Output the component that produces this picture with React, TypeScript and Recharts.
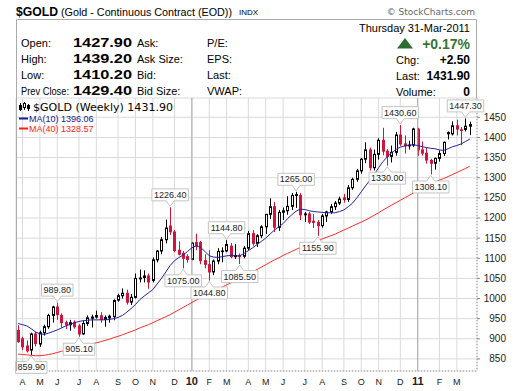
import {
  ComposedChart,
  Bar,
  Line,
  XAxis,
  YAxis,
  CartesianGrid,
  ReferenceDot,
  ReferenceLine,
} from 'recharts';

const ARIAL = 'Arial, "Liberation Sans", sans-serif';
const RED = '#d0143c';

// weekly bars, week starting monday
const weeks = [
  '2009-03-30', '2009-04-06', '2009-04-13', '2009-04-20', '2009-04-27', '2009-05-04', '2009-05-11', '2009-05-18',
  '2009-05-25', '2009-06-01', '2009-06-08', '2009-06-15', '2009-06-22', '2009-06-29', '2009-07-06', '2009-07-13',
  '2009-07-20', '2009-07-27', '2009-08-03', '2009-08-10', '2009-08-17', '2009-08-24', '2009-08-31', '2009-09-07',
  '2009-09-14', '2009-09-21', '2009-09-28', '2009-10-05', '2009-10-12', '2009-10-19', '2009-10-26', '2009-11-02',
  '2009-11-09', '2009-11-16', '2009-11-23', '2009-11-30', '2009-12-07', '2009-12-14', '2009-12-21', '2009-12-28',
  '2010-01-04', '2010-01-11', '2010-01-18', '2010-01-25', '2010-02-01', '2010-02-08', '2010-02-15', '2010-02-22',
  '2010-03-01', '2010-03-08', '2010-03-15', '2010-03-22', '2010-03-29', '2010-04-05', '2010-04-12', '2010-04-19',
  '2010-04-26', '2010-05-03', '2010-05-10', '2010-05-17', '2010-05-24', '2010-05-31', '2010-06-07', '2010-06-14',
  '2010-06-21', '2010-06-28', '2010-07-05', '2010-07-12', '2010-07-19', '2010-07-26', '2010-08-02', '2010-08-09',
  '2010-08-16', '2010-08-23', '2010-08-30', '2010-09-06', '2010-09-13', '2010-09-20', '2010-09-27', '2010-10-04',
  '2010-10-11', '2010-10-18', '2010-10-25', '2010-11-01', '2010-11-08', '2010-11-15', '2010-11-22', '2010-11-29',
  '2010-12-06', '2010-12-13', '2010-12-20', '2010-12-27', '2011-01-03', '2011-01-10', '2011-01-17', '2011-01-24',
  '2011-01-31', '2011-02-07', '2011-02-14', '2011-02-21', '2011-02-28', '2011-03-07', '2011-03-14', '2011-03-21',
  '2011-03-28',
];

const opens = [
  921, 900, 882, 872, 912, 887, 915, 930, 958, 979, 958, 940, 935, 941, 932, 912,
  938, 951, 954, 957, 948, 952, 955, 996, 1007, 1013, 991, 1003, 1049, 1052, 1056, 1045,
  1096, 1118, 1146, 1180, 1165, 1120, 1112, 1104, 1097, 1139, 1139, 1094, 1084, 1066, 1093, 1117,
  1118, 1130, 1104, 1107, 1105, 1125, 1161, 1137, 1156, 1178, 1209, 1228, 1177, 1214, 1218, 1229,
  1256, 1256, 1208, 1210, 1192, 1189, 1181, 1205, 1215, 1228, 1237, 1250, 1246, 1275, 1296, 1317,
  1346, 1369, 1325, 1358, 1393, 1366, 1353, 1363, 1406, 1384, 1379, 1381, 1421, 1369, 1361, 1343,
  1336, 1348, 1360, 1412, 1409, 1429, 1417, 1420, 1428,
];
const highs = [
  934, 905, 896, 915, 918, 920, 935, 962, 982, 989.8, 963, 945, 947, 946, 937, 945,
  958, 960, 970, 966, 958, 960, 998, 1012, 1025, 1022, 1011, 1062, 1072, 1070, 1062, 1102,
  1120, 1153, 1196, 1226.4, 1170, 1142, 1118, 1110, 1140, 1161, 1143, 1110, 1120, 1097, 1125, 1127,
  1144.8, 1138, 1135, 1112, 1130, 1168, 1170, 1160, 1182, 1210, 1249, 1240, 1220, 1226, 1254, 1262,
  1265, 1262, 1215, 1215, 1210, 1195, 1210, 1218, 1235, 1242, 1253, 1260, 1282, 1300, 1322, 1349,
  1388, 1375, 1370, 1398, 1424, 1371, 1380, 1414, 1430.6, 1405, 1392, 1424, 1424, 1390, 1375, 1347,
  1350, 1368, 1390, 1415, 1440, 1444, 1426, 1447.3, 1439.2,
];
const lows = [
  890, 872, 866, 859.9, 881, 880, 908, 925, 940, 947, 928, 924, 920, 925, 905.1, 910,
  932, 928, 950, 940, 930, 940, 946, 992, 1000, 985, 984, 1000, 1040, 1040, 1024, 1040,
  1090, 1110, 1137, 1158, 1115, 1107, 1075, 1089, 1095, 1120, 1085, 1075, 1044.8, 1058, 1085, 1090,
  1115, 1100, 1098, 1085.5, 1100, 1120, 1131, 1128, 1150, 1160, 1197, 1165, 1168, 1195, 1208, 1220,
  1225, 1195, 1190, 1185, 1175, 1155.9, 1176, 1190, 1210, 1220, 1232, 1238, 1240, 1270, 1290, 1310,
  1336, 1318, 1318, 1345, 1356, 1330, 1338, 1355, 1379, 1360, 1370, 1376, 1354, 1355, 1335, 1308.1,
  1320, 1340, 1354, 1395, 1405, 1405, 1381, 1415, 1406,
];
const closes = [
  893, 880, 870, 912, 888, 915, 930, 958, 979, 960, 940, 935, 940, 930, 912, 938,
  952, 954, 958, 948, 953, 956, 995, 1007, 1013, 991, 1003, 1050, 1051, 1056, 1041, 1096,
  1118, 1146, 1175, 1166, 1119, 1110, 1100, 1097, 1138, 1131, 1094, 1085, 1066, 1093, 1117, 1118,
  1134, 1104, 1107, 1104, 1125, 1161, 1137, 1156, 1178, 1209, 1228, 1177, 1214, 1218, 1229, 1256,
  1258, 1208, 1210, 1190, 1189, 1181, 1205, 1215, 1228, 1237, 1247, 1246, 1275, 1296, 1317, 1346,
  1369, 1325, 1358, 1393, 1366, 1353, 1363, 1406, 1384, 1379, 1381, 1421, 1369, 1361, 1344, 1336,
  1348, 1360, 1388, 1409, 1429, 1421, 1419, 1428, 1431.9,
];
const priorClose = 922;

const ma10 = [
  938, 935, 932, 925, 917, 912, 911, 914, 918, 922, 927, 932, 936, 940, 943, 945,
  946, 947, 947, 947, 947, 948, 950, 953, 958, 966, 975, 985, 997, 1006, 1014, 1022,
  1036, 1050, 1066, 1082, 1094, 1102, 1108, 1117, 1126, 1131, 1127, 1117, 1106, 1103, 1102, 1104,
  1106, 1107, 1106, 1106, 1112, 1119, 1126, 1134, 1142, 1150, 1160, 1170, 1178, 1186, 1198, 1208,
  1217, 1222, 1221, 1218, 1216, 1215, 1214, 1213, 1213, 1213, 1216, 1220, 1228, 1237, 1250, 1265,
  1280, 1294, 1308, 1325, 1340, 1352, 1362, 1370, 1376, 1379, 1381, 1382, 1380, 1377, 1375, 1373,
  1372, 1369, 1368, 1372, 1377, 1380, 1384, 1390, 1396.06,
];
const ma40 = [
  862, 861, 860, 859, 858, 858, 859, 861, 863, 866, 869, 871, 873, 876, 878, 881,
  884, 887, 890, 893, 896, 899, 903, 906, 910, 914, 918, 922, 927, 931, 935, 940,
  945, 950, 955, 960, 966, 972, 978, 984, 990, 996, 1002, 1007, 1013, 1018, 1023, 1029,
  1034, 1039, 1044, 1049, 1054, 1060, 1066, 1072, 1078, 1084, 1090, 1096, 1101, 1107, 1112, 1117,
  1122, 1127, 1131, 1136, 1140, 1144, 1148, 1152, 1156, 1160, 1165, 1170, 1175, 1180, 1185, 1190,
  1195, 1201, 1207, 1213, 1220, 1226, 1232, 1238, 1244, 1250, 1256, 1262, 1268, 1273, 1278, 1284,
  1289, 1294, 1298, 1303, 1308, 1313, 1318, 1323, 1328.57,
];

const monthTicks = [
  '2009-04-06', '2009-05-04', '2009-06-01', '2009-07-06', '2009-08-03', '2009-09-07', '2009-10-05', '2009-11-02',
  '2009-12-07', '2010-01-04', '2010-02-01', '2010-03-01', '2010-04-05', '2010-05-03', '2010-05-31', '2010-07-05',
  '2010-08-02', '2010-09-06', '2010-10-04', '2010-11-01', '2010-12-06', '2011-01-03', '2011-02-07', '2011-03-07',
];
const monthLabels = ['A', 'M', 'J', 'J', 'A', 'S', 'O', 'N', 'D', '10', 'F', 'M', 'A', 'M', 'J', 'J', 'A', 'S', 'O', 'N', 'D', '11', 'F', 'M'];
const yearTicks = ['2010-01-04', '2011-01-03'];
const priceTicks = [850, 900, 950, 1000, 1050, 1100, 1150, 1200, 1250, 1300, 1350, 1400, 1450];

const peakWeeks = ['2009-04-20', '2009-06-01', '2009-07-06', '2009-11-30', '2009-12-21', '2010-02-01', '2010-03-01',
  '2010-03-22', '2010-06-21', '2010-07-26', '2010-11-15', '2010-12-06', '2011-01-24', '2011-03-21'];
const peakValues = [859.9, 989.8, 905.1, 1226.4, 1075.0, 1044.8, 1144.8, 1085.5, 1265.0, 1155.9, 1330.0, 1430.6, 1308.1, 1447.3];
const peakIsHigh = [false, true, false, true, false, false, true, false, true, false, false, true, false, true];

const data = weeks.map((week, i) => ({
  week,
  open: opens[i],
  high: highs[i],
  low: lows[i],
  close: closes[i],
  prev: i > 0 ? closes[i - 1] : priorClose,
  range: [lows[i], highs[i]],
  ma10: ma10[i],
  ma40: ma40[i],
}));

const Candle = (props: any) => {
  const { x, y, width, height, payload } = props;
  if (x == null || !payload) return null;
  const { open, high, low, close, prev } = payload;
  const top = Math.min(y, y + height);
  const h = Math.abs(height);
  const k = high > low ? h / (high - low) : 0;
  const yOf = (v: number) => top + (high - v) * k;
  const c = Math.round(x + width / 2);
  const color = close >= prev ? '#000' : RED;
  const bTop = yOf(Math.max(open, close));
  const bBot = yOf(Math.min(open, close));
  return (
    <g>
      <line x1={c + 0.5} x2={c + 0.5} y1={top} y2={top + h} stroke={color} strokeWidth={1} />
      <rect x={c - 0.5} y={bTop} width={2} height={Math.max(bBot - bTop, 0.6)}
        fill={close < open ? color : '#fff'} stroke={color} strokeWidth={1} />
    </g>
  );
};

const PeakTag = ({ cx, cy, text, high }: any) => {
  if (cx == null || cy == null) return null;
  const w = text.replace('.', '').length * 5 + 2.5 + 4;
  const l = cx - w / 2;
  const r = cx + w / 2;
  const bh = 12;
  let d: string;
  let ty: number;
  if (high) {
    const apex = cy - 1;
    const yb = cy - 6.5;
    const yt = yb - bh;
    d = `M${l},${yt} H${r} V${yb} H${cx + 4} L${cx},${apex} L${cx - 4},${yb} H${l} Z`;
    ty = yt + 9;
  } else {
    const apex = cy + 1;
    const yt = cy + 6.5;
    const yb = yt + bh;
    d = `M${l},${yt} H${cx - 4} L${cx},${apex} L${cx + 4},${yt} H${r} V${yb} H${l} Z`;
    ty = yt + 9;
  }
  return (
    <g>
      <path d={d} fill="#fff" stroke="#c4c4c4" strokeWidth={1} />
      <text x={cx} y={ty} textAnchor="middle" fontSize={9} fontFamily={ARIAL} fill="#222">{text}</text>
    </g>
  );
};

const MonthTick = ({ x, payload }: any) => {
  const idx = monthTicks.indexOf(payload.value);
  const label = monthLabels[idx] ?? '';
  const isYear = label.length > 1;
  return (
    <text x={x} y={385} textAnchor="middle" fontFamily={ARIAL} fontSize={isYear ? 11 : 9}
      fontWeight={isYear ? 'bold' : 'normal'} fill="#222">{label}</text>
  );
};

const PriceTick = ({ y, payload }: any) => (
  <text x={506} y={y + 3.5} textAnchor="end" fontFamily={ARIAL} fontSize={10} fill="#222">{payload.value}</text>
);

const infoLeft = [
  ['Open:', '1427.90', 'Ask:', 'P/E:'],
  ['High:', '1439.20', 'Ask Size:', 'EPS:'],
  ['Low:', '1410.20', 'Bid:', 'Last:'],
  ['Prev Close:', '1429.40', 'Bid Size:', 'VWAP:'],
];
const infoRight = [
  ['Chg:', '+2.50'],
  ['Last:', '1431.90'],
  ['Volume:', '0'],
];
const rowY = [47, 63, 79, 94.5];

export default function App() {
  return (
    <div style={{ position: 'absolute', left: 0, top: 0, width: 520, height: 391, background: '#fff' }}>
      <div style={{ position: 'absolute', left: 0, top: 0 }}>
        <ComposedChart width={520} height={391} data={data} margin={{ top: 98, right: 0, bottom: 0, left: 16 }} barCategoryGap={0}>
          <CartesianGrid stroke="#dadada" strokeWidth={1} />
          {yearTicks.map((w) => (
            <ReferenceLine key={w} x={w} stroke="#a8a8a8" strokeWidth={1} />
          ))}
          <XAxis dataKey="week" ticks={monthTicks} interval={0} height={20} padding={{ left: 0, right: 5 }}
            tick={<MonthTick />} tickLine={false} axisLine={{ stroke: '#9a9a9a', strokeDasharray: '1 2' }} />
          <YAxis orientation="right" width={43} domain={[820, 1498]} ticks={priceTicks} interval={0} allowDataOverflow
            tick={<PriceTick />} tickSize={3} tickLine={{ stroke: '#888' }} axisLine={{ stroke: '#9a9a9a', strokeDasharray: '1 2' }} />
          <Line dataKey="ma40" stroke="#ff2b2b" strokeWidth={1} dot={false} isAnimationActive={false} />
          <Line dataKey="ma10" stroke="#2323a0" strokeWidth={1} dot={false} isAnimationActive={false} />
          <Bar dataKey="range" shape={Candle} isAnimationActive={false} />
          {peakWeeks.map((w, i) => (
            <ReferenceDot key={w} x={w} y={peakValues[i]} r={0} ifOverflow="visible"
              shape={(p: any) => <PeakTag {...p} text={peakValues[i].toFixed(2)} high={peakIsHigh[i]} />} />
          ))}
        </ComposedChart>
      </div>
      <svg width={520} height={391} style={{ position: 'absolute', left: 0, top: 0, pointerEvents: 'none' }}>
        <path d="M16.5,371 V19.5 H476.5 V98" fill="none" stroke="#ababab" strokeWidth={1} />
        <text x={16} y={15.5} fontFamily={ARIAL} fontSize={12.5} fontWeight="bold" fill="#000"
          textLength={42} lengthAdjust="spacingAndGlyphs">$GOLD</text>
        <text x={61} y={15.5} fontFamily={ARIAL} fontSize={11} fill="#000" textLength={171} lengthAdjust="spacingAndGlyphs">
          (Gold - Continuous Contract (EOD))
        </text>
        <text x={239} y={15} fontFamily={ARIAL} fontSize={8} fill="#000">INDX</text>
        <text x={475} y={15} textAnchor="end" fontFamily='"DejaVu Sans", sans-serif' fontSize={9} fill="#666">© StockCharts.com</text>

        {infoLeft.map((row, i) => (
          <g key={row[0]}>
            <text x={21} y={rowY[i]} fontFamily={ARIAL} fontSize={11} fill="#000"
              textLength={row[0] === 'Prev Close:' ? 48 : undefined} lengthAdjust="spacingAndGlyphs">{row[0]}</text>
            <text x={73} y={rowY[i]} fontFamily={ARIAL} fontSize={12.5} fontWeight="bold" fill="#000"
              textLength={59} lengthAdjust="spacingAndGlyphs">{row[1]}</text>
            <text x={137} y={rowY[i]} fontFamily={ARIAL} fontSize={11} fill="#000">{row[2]}</text>
            <text x={207} y={rowY[i]} fontFamily={ARIAL} fontSize={11} fill="#000">{row[3]}</text>
          </g>
        ))}

        <text x={470} y={32} textAnchor="end" fontFamily={ARIAL} fontSize={11} fill="#000">Thursday  31-Mar-2011</text>
        <path d="M397,48.5 L405,38 L413,48.5 Z" fill="#2e6b30" />
        <text x={470} y={48.5} textAnchor="end" fontFamily={ARIAL} fontSize={14} fontWeight="bold" fill="#367536">+0.17%</text>
        {infoRight.map((row, i) => (
          <g key={row[0]}>
            <text x={396} y={rowY[i + 1] + 1} fontFamily={ARIAL} fontSize={11} fill="#000">{row[0]}</text>
            <text x={470} y={rowY[i + 1] + 1} textAnchor="end" fontFamily={ARIAL} fontSize={12} fontWeight="bold" fill="#000">{row[1]}</text>
          </g>
        ))}

        <g fill="#000" stroke="#000" strokeWidth={1}>
          <line x1={20.5} x2={20.5} y1={103} y2={111} />
          <rect x={19.5} y={105.5} width={2} height={4} fill="#000" />
          <line x1={24.5} x2={24.5} y1={102} y2={110} />
          <rect x={23.5} y={103.5} width={2} height={4} fill="#fff" />
          <line x1={28.5} x2={28.5} y1={104} y2={111} />
          <rect x={27.5} y={105.5} width={2} height={3} fill="#000" />
        </g>
        <text x={33} y={111} fontFamily='"DejaVu Sans", sans-serif' fontSize={10.5} fill="#000"
          textLength={140} lengthAdjust="spacingAndGlyphs">$GOLD (Weekly) 1431.90</text>
        <line x1={19} x2={28} y1={118.5} y2={118.5} stroke="#1a1a8c" strokeWidth={2} />
        <text x={29} y={122} fontFamily={ARIAL} fontSize={9} fill="#1a1a8c">MA(10) 1396.06</text>
        <line x1={19} x2={28} y1={128.5} y2={128.5} stroke="#ff1a1a" strokeWidth={2} />
        <text x={29} y={132} fontFamily={ARIAL} fontSize={9} fill="#ff1a1a">MA(40) 1328.57</text>
      </svg>
    </div>
  );
}
